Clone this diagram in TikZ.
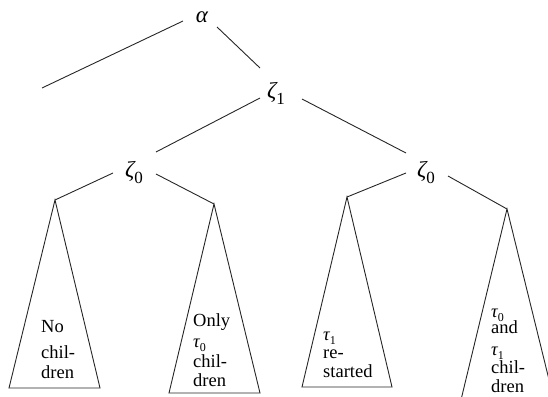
\documentclass[tikz,border=0pt]{standalone}
\usepackage{fontspec}
\setmainfont{Liberation Serif}
\newcommand\glab[2]{{\itshape #1}\raisebox{-0.28em}[\height][0pt]{\fontsize{17}{17}\selectfont #2}}
\newcommand\tlab[2]{{\itshape #1}\raisebox{-0.22em}[\height][0pt]{\fontsize{12}{12}\selectfont #2}}
\begin{document}
\begin{tikzpicture}[x=1pt,y=-1pt,
  edge/.style={line width=0.9pt,black!85},
  treelab/.style={inner sep=0pt,font=\fontsize{23}{23}\selectfont},
  txt/.style={inner sep=0pt,anchor=base west,font=\fontsize{18.5}{20}\selectfont}]
\useasboundingbox (0,0) rectangle (548,396);
\clip (0,0) rectangle (548,396);
% labels
\node[treelab] (a) at (202,17) {{\itshape α}};
\node[treelab] (z1) at (276,92) {\glab{ζ}{1}};
\node[treelab] (z0l) at (134,171) {\glab{ζ}{0}};
\node[treelab] (z0r) at (426,171) {\glab{ζ}{0}};
% line ends
\coordinate (aL) at (183,21);
\coordinate (aR) at (217,27);
\coordinate (free) at (42,88);
\coordinate (z1T) at (260,68);
\coordinate (z1L) at (260,98);
\coordinate (z1R) at (302,99);
\coordinate (zlT) at (156,152);
\coordinate (zrT) at (406,153);
\coordinate (zlL) at (113,173);
\coordinate (zlR) at (156,174);
\coordinate (zrL) at (406,173);
\coordinate (zrR) at (448,176);
% triangle apexes and base corners
\coordinate (t1) at (55,200);
\coordinate (t1a) at (9,388);
\coordinate (t1b) at (100,388);
\coordinate (t2) at (214,204);
\coordinate (t2a) at (169,393);
\coordinate (t2b) at (260,393);
\coordinate (t3) at (347,197);
\coordinate (t3a) at (302,387);
\coordinate (t3b) at (392,387);
\coordinate (t4) at (507,209);
\coordinate (t4a) at (460,404);
\coordinate (t4b) at (555,404);
% edges
\draw[edge] (aL) -- (free);
\draw[edge] (aR) -- (z1T);
\draw[edge] (z1L) -- (zlT);
\draw[edge] (z1R) -- (zrT);
\draw[edge] (zlL) -- (t1);
\draw[edge] (zlR) -- (t2);
\draw[edge] (zrL) -- (t3);
\draw[edge] (zrR) -- (t4);
% triangles
\draw[edge] (t1) -- (t1a) -- (t1b) -- cycle;
\draw[edge] (t2) -- (t2a) -- (t2b) -- cycle;
\draw[edge] (t3) -- (t3a) -- (t3b) -- cycle;
\draw[edge] (t4) -- (t4a) -- (t4b) -- cycle;
% texts
\node[txt] (n1) at (41,332) {No};
\node[txt] (n2) at (41,358) {chil-};
\node[txt] (n3) at (41,378) {dren};
\node[txt] (o1) at (193,326) {Only};
\node[txt] (o2) at (193,347) {\tlab{τ}{0}};
\node[txt] (o3) at (193,367) {chil-};
\node[txt] (o4) at (193,386) {dren};
\node[txt] (r1) at (323,340) {\tlab{τ}{1}};
\node[txt] (r2) at (323,358) {re-};
\node[txt] (r3) at (323,377) {started};
\node[txt] (b1) at (491,317) {\tlab{τ}{0}};
\node[txt] (b2) at (491,333) {and};
\node[txt] (b3) at (491,355) {\tlab{τ}{1}};
\node[txt] (b4) at (491,373) {chil-};
\node[txt] (b5) at (491,392) {dren};
\end{tikzpicture}
\end{document}
